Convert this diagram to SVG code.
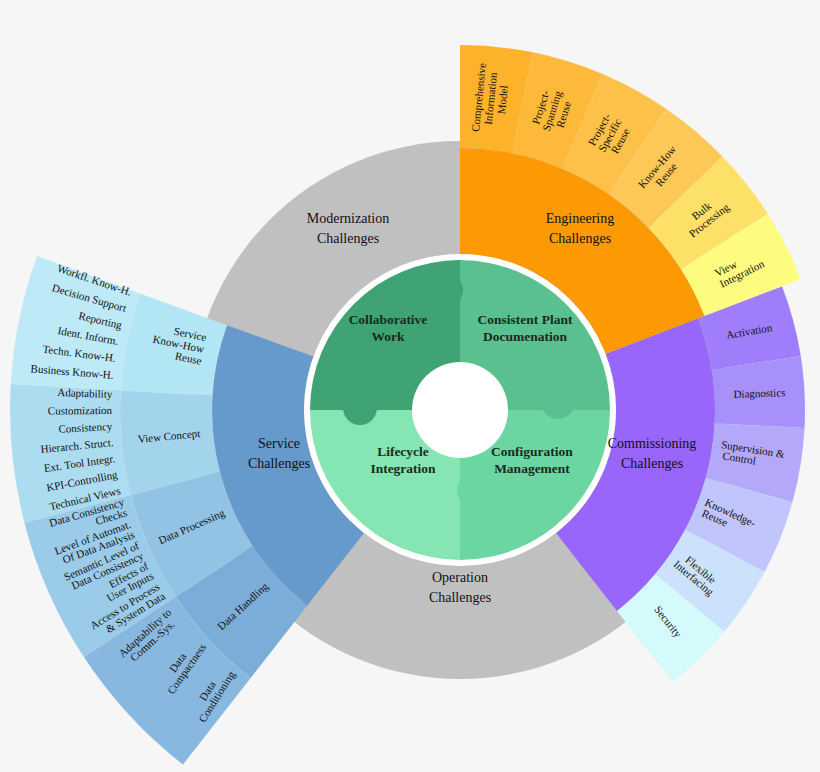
<svg xmlns="http://www.w3.org/2000/svg" width="820" height="772" viewBox="0 0 820 772">
<style>
text{font-family:"Liberation Serif","DejaVu Serif",serif;fill:#111;}
.m{font-size:14px;text-anchor:middle}
.g{font-size:13.5px;text-anchor:middle;font-weight:bold;fill:#1a2a20}
.l{font-size:11px}
.e{text-anchor:end}
.c{text-anchor:middle}
</style>
<rect width="820" height="772" fill="#f6f6f6"/>
<g id="ring">
<circle cx="460" cy="410" r="269" fill="#c0c0c0"/>
</g>
<g id="engineering">
<path d="M460,148 A262,262 0 0 1 704.6,316.1 L605.6,354.1 A156,156 0 0 0 460,254 Z" fill="#fd9a03"/>
<path d="M460,148 L460,45 A365,365 0 0 1 532.8,52.3 L512.2,153.3 A262,262 0 0 0 460,148Z" fill="#fdb22c"/>
<path d="M512.2,153.3 L532.8,52.3 A365,365 0 0 1 602.6,74 L562.4,168.8 A262,262 0 0 0 512.2,153.3Z" fill="#fdb93a"/>
<path d="M562.4,168.8 L602.6,74 A365,365 0 0 1 666.7,109.2 L608.4,194.1 A262,262 0 0 0 562.4,168.8Z" fill="#fdc048"/>
<path d="M608.4,194.1 L666.7,109.2 A365,365 0 0 1 722.5,156.4 L648.5,228 A262,262 0 0 0 608.4,194.1Z" fill="#fdc857"/>
<path d="M648.5,228 L722.5,156.4 A365,365 0 0 1 767.8,213.9 L681,269.2 A262,262 0 0 0 648.5,228Z" fill="#fde068"/>
<path d="M681,269.2 L767.8,213.9 A365,365 0 0 1 800.8,279.2 L704.6,316.1 A262,262 0 0 0 681,269.2Z" fill="#fdfb80"/>
</g>
<g id="commissioning">
<path d="M698.1,318.6 A255,255 0 0 1 617,610.9 L556,532.9 A156,156 0 0 0 605.6,354.1 Z" fill="#9966fb"/>
<path d="M698.1,318.6 L782.1,286.4 A345,345 0 0 1 800.8,356 L711.9,370.1 A255,255 0 0 0 698.1,318.6Z" fill="#a07efb"/>
<path d="M711.9,370.1 L800.8,356 A345,345 0 0 1 804.5,428 L714.6,423.3 A255,255 0 0 0 711.9,370.1Z" fill="#a890fb"/>
<path d="M714.6,423.3 L804.5,428 A345,345 0 0 1 792.4,502.2 L705.7,478.1 A255,255 0 0 0 714.6,423.3Z" fill="#b4a8fb"/>
<path d="M705.7,478.1 L792.4,502.2 A345,345 0 0 1 764.6,572 L685.1,529.7 A255,255 0 0 0 705.7,478.1Z" fill="#c0c6fc"/>
<path d="M685.1,529.7 L764.6,572 A345,345 0 0 1 724.3,631.8 L655.3,573.9 A255,255 0 0 0 685.1,529.7Z" fill="#cce2fc"/>
<path d="M655.3,573.9 L724.3,631.8 A345,345 0 0 1 672.4,681.9 L617,610.9 A255,255 0 0 0 655.3,573.9Z" fill="#d4fafc"/>
</g>
<g id="service">
<path d="M307.3,605.4 A248,248 0 0 1 227,325.2 L313.4,356.6 A156,156 0 0 0 364,532.9 Z" fill="#6699cc"/>
<path d="M227,325.2 L140.5,293.7 A340,340 0 0 0 120.6,390.4 L212.4,395.7 A248,248 0 0 1 227,325.2Z" fill="#b2e6f4"/>
<path d="M212.4,395.7 L120.6,390.4 A340,340 0 0 0 130.8,495.1 L219.9,472.1 A248,248 0 0 1 212.4,395.7Z" fill="#a2d4ec"/>
<path d="M219.9,472.1 L130.8,495.1 A340,340 0 0 0 175.8,596.7 L252.7,546.2 A248,248 0 0 1 219.9,472.1Z" fill="#92c3e5"/>
<path d="M252.7,546.2 L175.8,596.7 A340,340 0 0 0 250.7,677.9 L307.3,605.4 A248,248 0 0 1 252.7,546.2Z" fill="#7cadd9"/>
<path d="M140.5,293.7 L37.1,256.1 A450,450 0 0 0 10.8,384.1 L120.6,390.4 A340,340 0 0 1 140.5,293.7Z" fill="#bdeaf6"/>
<path d="M120.6,390.4 L10.8,384.1 A450,450 0 0 0 24.4,522.7 L130.8,495.1 A340,340 0 0 1 120.6,390.4Z" fill="#acdcf0"/>
<path d="M130.8,495.1 L24.4,522.7 A450,450 0 0 0 83.9,657.1 L175.8,596.7 A340,340 0 0 1 130.8,495.1Z" fill="#9acbe9"/>
<path d="M175.8,596.7 L83.9,657.1 A450,450 0 0 0 182.9,764.6 L250.7,677.9 A340,340 0 0 1 175.8,596.7Z" fill="#88b8e0"/>
</g>
<g id="core">
<circle cx="460" cy="410" r="156" fill="#ffffff"/>
<path d="M460,410 L310,410 A150,150 0 0 1 460,260Z" fill="#40a373"/>
<path d="M460,410 L460,260 A150,150 0 0 1 610,410Z" fill="#5ac08f"/>
<path d="M460,410 L610,410 A150,150 0 0 1 460,560Z" fill="#6cd6a3"/>
<path d="M460,410 L460,560 A150,150 0 0 1 310,410Z" fill="#86e6b3"/>
<circle cx="446" cy="290" r="17" fill="#40a373"/>
<circle cx="360" cy="408" r="17" fill="#40a373"/>
<circle cx="558" cy="402" r="17" fill="#5ac08f"/>
<circle cx="474" cy="490" r="17" fill="#6cd6a3"/>
<circle cx="460" cy="410" r="48" fill="#ffffff"/>
</g>
<g id="labels">
<text class="m" x="348" y="223">Modernization<tspan x="348" dy="20">Challenges</tspan></text>
<text class="m" x="580" y="223">Engineering<tspan x="580" dy="20">Challenges</tspan></text>
<text class="m" x="652" y="448">Commissioning<tspan x="652" dy="20">Challenges</tspan></text>
<text class="m" x="279" y="448">Service<tspan x="279" dy="20">Challenges</tspan></text>
<text class="m" x="460" y="582">Operation<tspan x="460" dy="20">Challenges</tspan></text>
<text class="g" x="388" y="324">Collaborative<tspan x="388" dy="17">Work</tspan></text>
<text class="g" x="525" y="324">Consistent Plant<tspan x="525" dy="17">Documenation</tspan></text>
<text class="g" x="403" y="456">Lifecycle<tspan x="403" dy="17">Integration</tspan></text>
<text class="g" x="532" y="456">Configuration<tspan x="532" dy="17">Management</tspan></text>

<g class="l">
<text class="c" transform="translate(491.4,98.6) rotate(-84.25)"><tspan x="0" y="-9">Comprehensive</tspan><tspan x="0" y="3">Information</tspan><tspan x="0" y="15">Model</tspan></text>
<text class="c" transform="translate(552.8,111.1) rotate(-72.75)"><tspan x="0" y="-9">Project-</tspan><tspan x="0" y="3">Spanning</tspan><tspan x="0" y="15">Reuse</tspan></text>
<text class="c" transform="translate(610.6,135.6) rotate(-61.25)"><tspan x="0" y="-9">Project-</tspan><tspan x="0" y="3">Specific</tspan><tspan x="0" y="15">Reuse</tspan></text>
<text class="c" transform="translate(662.2,171.1) rotate(-49.75)"><tspan x="0" y="-3">Know-How</tspan><tspan x="0" y="9">Reuse</tspan></text>
<text class="c" transform="translate(705.8,216.2) rotate(-38.25)"><tspan x="0" y="-3">Bulk</tspan><tspan x="0" y="9">Processing</tspan></text>
<text class="c" transform="translate(739.5,269.1) rotate(-26.75)"><tspan x="-12" y="-3">View</tspan><tspan x="0" y="9">Integration</tspan></text>

<text class="c" transform="translate(749.8,335) rotate(-10)">Activation</text>
<text class="c" transform="translate(759.6,397) rotate(-2)">Diagnostics</text>
<text class="c" transform="translate(752,455) rotate(9.25)"><tspan x="0" y="-2">Supervision &amp;</tspan><tspan x="-12" y="9">Control</tspan></text>
<text class="c" transform="translate(728,518) rotate(24)"><tspan x="0" y="-2">Knowledge-</tspan><tspan x="-12" y="9">Reuse</tspan></text>
<text class="c" transform="translate(697,574) rotate(40)"><tspan x="0" y="-2">Flexible</tspan><tspan x="0" y="9">Interfacing</tspan></text>
<text class="c" transform="translate(665,624) rotate(52)">Security</text>

<text class="e" transform="translate(203.4,352) rotate(11.65)"><tspan x="0" y="-11">Service</tspan><tspan x="0" y="1">Know-How</tspan><tspan x="0" y="13">Reuse</tspan></text>
<text class="c" transform="translate(169.4,440) rotate(-5.6)">View Concept</text>
<text class="c" transform="translate(193,530) rotate(-23.9)">Data Processing</text>
<text class="c" transform="translate(245.3,609) rotate(-42.65)">Data Handling</text>

<text class="e" transform="translate(130.2,296) rotate(18.6)">Workfl. Know-H.</text>
<text class="e" transform="translate(125.1,312) rotate(15.8)">Decision Support</text>
<text class="e" transform="translate(120.9,329) rotate(13)">Reporting</text>
<text class="e" transform="translate(117.6,345) rotate(10.3)">Ident. Inform.</text>
<text class="e" transform="translate(115,362) rotate(7.5)">Techn. Know-H.</text>
<text class="e" transform="translate(113.2,379) rotate(4.7)">Business Know-H.</text>
<text class="e" transform="translate(112.2,398) rotate(2)">Adaptability</text>
<text class="e" transform="translate(112,414) rotate(-0.5)">Customization</text>
<text class="e" transform="translate(112.5,430) rotate(-3)">Consistency</text>
<text class="e" transform="translate(113.7,446) rotate(-5.6)">Hierarch. Struct.</text>
<text class="e" transform="translate(115.5,462) rotate(-8.1)">Ext. Tool Integr.</text>
<text class="e" transform="translate(118,478) rotate(-10.7)">KPI-Controlling</text>
<text class="e" transform="translate(121.2,494) rotate(-13.2)">Technical Views</text>
<text class="e" transform="translate(126.1,510) rotate(-16.4)"><tspan x="0" y="-5">Data Consistency</tspan><tspan x="0" y="6">Checks</tspan></text>
<text class="e" transform="translate(133.3,532) rotate(-20.1)"><tspan x="0" y="-5">Level of Automat.</tspan><tspan x="0" y="6">Of Data Analysis</tspan></text>
<text class="e" transform="translate(141.8,553) rotate(-23.9)"><tspan x="0" y="-5">Semantic Level of</tspan><tspan x="0" y="6">Data Consistency</tspan></text>
<text class="e" transform="translate(151.7,573) rotate(-27.7)"><tspan x="0" y="-5">Effects of</tspan><tspan x="0" y="6">User Inputs</tspan></text>
<text class="e" transform="translate(163,593) rotate(-31.4)"><tspan x="0" y="-5">Access to Process</tspan><tspan x="0" y="6">&amp; System Data</tspan></text>
<text class="c" transform="translate(150.1,638.5) rotate(-42)"><tspan x="0" y="-4">Adaptability to</tspan><tspan x="0" y="7">Comm.-Sys.</tspan></text>
<text class="c" transform="translate(184,667) rotate(-55)"><tspan x="0" y="-4">Data</tspan><tspan x="0" y="7">Compactness</tspan></text>
<text class="c" transform="translate(214,695) rotate(-58)"><tspan x="0" y="-4">Data</tspan><tspan x="0" y="7">Conditioning</tspan></text>
</g>
</g>
</svg>
